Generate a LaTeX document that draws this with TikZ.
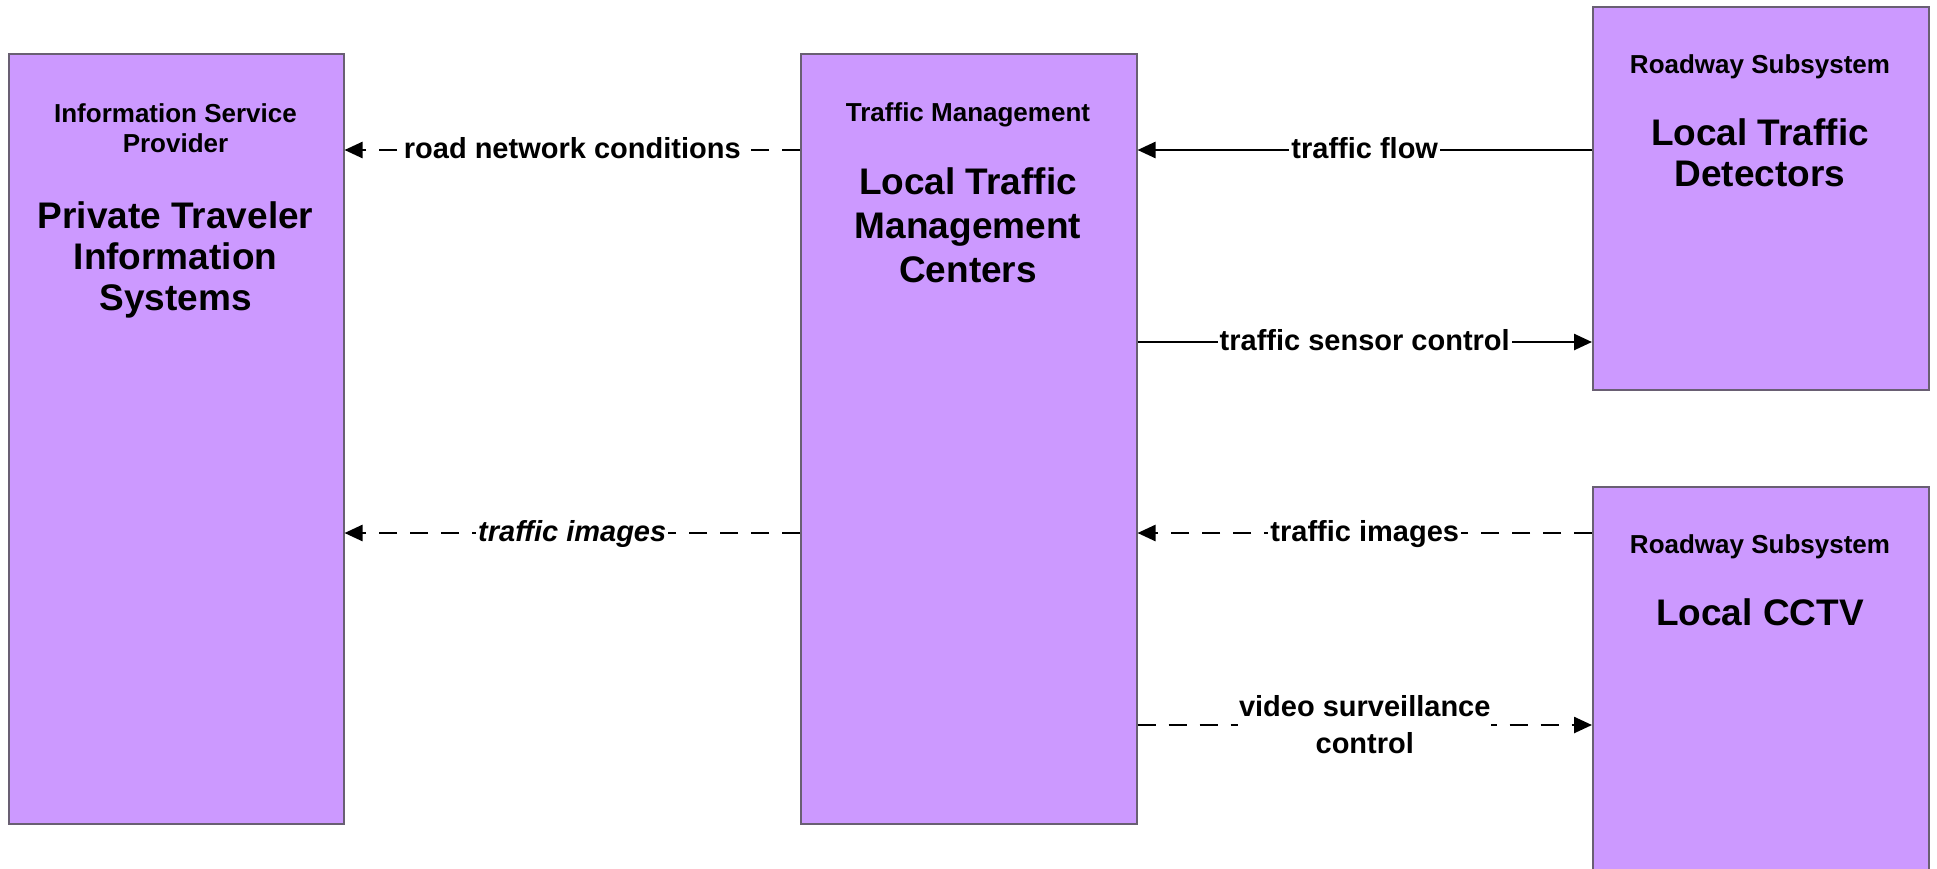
\documentclass[tikz,border=0pt]{standalone}
\usepackage{fontspec}
\setmainfont{Liberation Sans}
\usetikzlibrary{arrows.meta}
\definecolor{boxfill}{RGB}{204,153,255}
\definecolor{boxline}{RGB}{105,95,115}
\begin{document}
\begin{tikzpicture}[x=1pt,y=-1pt,
  box/.style={rectangle,draw=boxline,line width=1.5pt,fill=boxfill,minimum width=335pt,inner sep=0pt,anchor=north west},
  small/.style={font=\fontsize{26}{30}\selectfont\bfseries,align=center,anchor=base,inner sep=0pt},
  big/.style={font=\fontsize{37}{41}\selectfont\bfseries,align=center,anchor=base,inner sep=0pt},
  lab/.style={font=\fontsize{29}{37}\selectfont\bfseries,fill=white,inner xsep=2pt,inner ysep=0pt,text height=21pt,text depth=4pt},
  labtwo/.style={font=\fontsize{29}{37}\selectfont\bfseries,fill=white,inner xsep=1pt,inner ysep=0pt,align=center},
  flow/.style={line width=2.5pt,-{Triangle[length=18pt,width=16pt]}},
  dflow/.style={flow,dash pattern=on 18pt off 13pt}]
\useasboundingbox (0,0) rectangle (1937,868);
\clip (0,0) rectangle (1937,868);
% boxes
\node[box,minimum height=770pt] (isp) at (8,53) {};
\node[box,minimum width=336pt,minimum height=770pt] (tm) at (800,53) {};
\node[box,minimum width=336pt,minimum height=383pt] (ltd) at (1592,6) {};
\node[box,minimum width=336pt,minimum height=420pt] (cctv) at (1592,486) {};
% box texts (anchor base = last line)
\node[small] (ispT) at (175.5,152) {Information Service\\Provider};
\node[big] (ispN) at (175.5,310) {Private Traveler\\Information\\Systems};
\node[small] (tmT) at (968,121) {Traffic Management};
\node[big,font=\fontsize{37}{44}\selectfont\bfseries] (tmN) at (968,282) {Local Traffic\\Management\\Centers};
\node[small] (ltdT) at (1760,73) {Roadway Subsystem};
\node[big] (ltdN) at (1760,186) {Local Traffic\\Detectors};
\node[small] (cctvT) at (1760,553) {Roadway Subsystem};
\node[big] (cctvN) at (1760,625) {Local CCTV};
% levels
\coordinate (y1) at (0,150);
\coordinate (y2) at (0,342);
\coordinate (y3) at (0,533);
\coordinate (y4) at (0,725);
% connectors
\draw[dflow] (tm.west |- y1) -- node[lab] (l1) {road network conditions} (isp.east |- y1);
\draw[dflow] (tm.west |- y3) -- node[lab] (l2) {\itshape traffic images} (isp.east |- y3);
\draw[flow] (ltd.west |- y1) -- node[lab] (l3) {traffic flow} (tm.east |- y1);
\draw[flow] (tm.east |- y2) -- node[lab] (l4) {traffic sensor control} (ltd.west |- y2);
\draw[dflow] (cctv.west |- y3) -- node[lab] (l5) {traffic images} (tm.east |- y3);
\draw[dflow] (tm.east |- y4) -- node[labtwo] (l6) {video surveillance\\control} (cctv.west |- y4);
\end{tikzpicture}
\end{document}
